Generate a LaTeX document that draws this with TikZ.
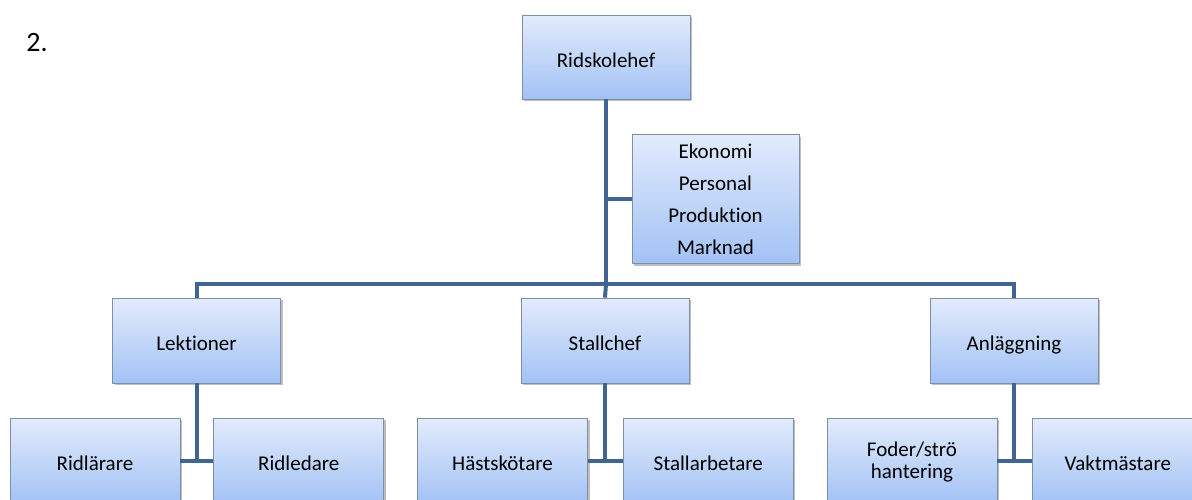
\documentclass[tikz,border=0pt]{standalone}
\usepackage{fontspec}
\setmainfont{Carlito}[Ligatures=NoCommon]
\usetikzlibrary{positioning,shadows}
\definecolor{orgline}{RGB}{64,100,148}
\definecolor{orgedge}{RGB}{128,142,166}
\definecolor{orgtop}{RGB}{226,235,252}
\definecolor{orgbottom}{RGB}{162,194,245}
\begin{document}
\begin{tikzpicture}[
    x=1pt,y=-1pt,
    basebox/.style={rectangle,draw=orgedge,line width=0.8pt,
                top color=orgtop,bottom color=orgbottom,
                minimum width=168pt,minimum height=85pt,align=center,
                font=\fontsize{21}{32}\selectfont,
                drop shadow={shadow xshift=2pt,shadow yshift=-2pt,fill=black,opacity=0.25}},
    orgbox/.style={basebox,text height=20pt,text depth=0pt},
    leaf/.style={orgbox,minimum width=170pt},
    link/.style={orgline,line width=4pt},
  ]
    \useasboundingbox (0,0) rectangle (1192,499);
    \node[font=\fontsize{28}{30}\selectfont] (num) at (37,43) {2.};
    % chef och stab
    \node[orgbox,minimum height=84pt] (chef) at (606,57) {Ridskolehef};
    \node[basebox,minimum width=167pt,minimum height=129pt] (stab) at (715.5,199)
      {Ekonomi\\Personal\\Produktion\\Marknad};
    % avdelningar
    \node[orgbox] (lek) at (196.5,340.5) {Lektioner};
    \node[orgbox] (stall) at (605,340.5) {Stallchef};
    \node[orgbox] (anl) at (1014,340.5) {Anläggning};
    % personal
    \node[leaf] (ridl) at (95,460.5) {Ridlärare};
    \node[leaf,right=33pt of ridl] (ridle) {Ridledare};
    \node[leaf] (hast) at (502.5,460.5) {Hästskötare};
    \node[leaf,right=35pt of hast] (starb) {Stallarbetare};
    \node[basebox,minimum width=170pt,text depth=0pt] (foder) at (912,460.5) {Foder/strö\\[-10pt]hantering};
    \node[leaf,right=35pt of foder] (vakt) {Vaktmästare};
    % linjer
    \coordinate (bus) at (606,284);
    \draw[link] (chef.south) -- (bus);
    \draw[link] (stab.west) -- (chef.south |- stab.west);
    \draw[link] (lek.north) |- (bus) -| (anl.north);
    \draw[link] (bus) -- (stall.north);
    \coordinate (lekj) at (lek.south |- ridl.east);
    \coordinate (stallj) at (stall.south |- hast.east);
    \coordinate (anlj) at (anl.south |- foder.east);
    \draw[link] (lek.south) -- (lekj);
    \draw[link] (ridl.east) -- (ridle.west);
    \draw[link] (stall.south) -- (stallj);
    \draw[link] (hast.east) -- (starb.west);
    \draw[link] (anl.south) -- (anlj);
    \draw[link] (foder.east) -- (vakt.west);
  \end{tikzpicture}
\end{document}
